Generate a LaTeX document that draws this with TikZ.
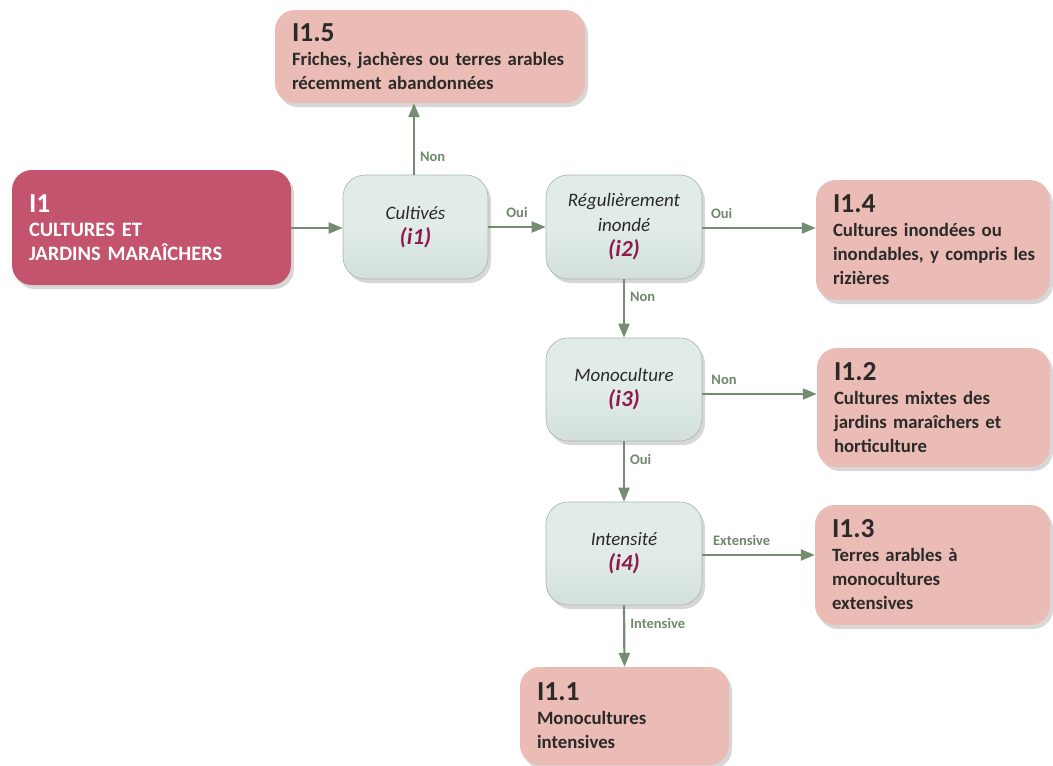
\documentclass[tikz,border=0pt]{standalone}
\usepackage{fontspec}
\setmainfont{Carlito}
\usetikzlibrary{arrows.meta,shadows}
\definecolor{mainred}{HTML}{C4536E}
\definecolor{decfill}{HTML}{E1ECE8}
\definecolor{decbot}{HTML}{D3E0DA}
\definecolor{decdraw}{HTML}{A9B3AE}
\definecolor{outfill}{HTML}{EBBCB5}
\definecolor{arrowc}{HTML}{748C72}
\definecolor{labelc}{HTML}{6E8A6B}
\definecolor{codec}{HTML}{8C1C4D}
\definecolor{textc}{HTML}{2B2A29}
\tikzset{
  shad/.style={drop shadow={shadow xshift=3pt,shadow yshift=-4pt,opacity=0.22,fill=black!70}},
  mainbox/.style={shad,rounded corners=20pt,fill=mainred,text=white,align=left,font=\bfseries\fontsize{20.5}{24}\selectfont,inner sep=0pt},
  decbox/.style={shad,rounded corners=22pt,top color=decfill,bottom color=decbot,middle color=decfill,draw=decdraw,line width=0.6pt,align=center,text=textc,inner sep=0pt,font=\itshape\fontsize{19}{25}\selectfont},
  outbox/.style={shad,rounded corners=20pt,fill=outfill,text=textc,align=left,font=\bfseries\fontsize{18.8}{24}\selectfont,inner sep=0pt},
  conn/.style={draw=arrowc,line width=2.2pt,-{Triangle[length=14pt,width=11pt]}},
  lab/.style={text=labelc,font=\bfseries\fontsize{14.5}{16}\selectfont,inner sep=0pt},
}
\newcommand{\code}[1]{{\color{codec}\bfseries\fontsize{23}{26}\selectfont #1}}
\newcommand{\ttl}[1]{{\fontsize{27.5}{28}\selectfont #1}}
\begin{document}
\begin{tikzpicture}[x=1pt,y=-1pt]
\useasboundingbox[fill=white] (0,0) rectangle (1053,766);
% main box
\node[mainbox,minimum width=279pt,minimum height=115pt,text width=245pt] (m) at (151.5,227.5)
  {\ttl{I1}\\CULTURES ET\\JARDINS MARAÎCHERS};
% decisions
\node[decbox,minimum width=145pt,minimum height=104pt] (c1) at (415.5,227) {Cultivés\\\code{(i1)}};
\node[decbox,minimum width=156pt,minimum height=104pt] (c2) at (624,227) {Régulièrement\\inondé\\\code{(i2)}};
\node[decbox,minimum width=156pt,minimum height=103pt] (c3) at (624,389.5) {Monoculture\\\code{(i3)}};
\node[decbox,minimum width=156pt,minimum height=103pt] (c4) at (624,553.5) {Intensité\\\code{(i4)}};
% outcomes
\node[outbox,minimum width=310pt,minimum height=93pt,text width=276pt] (o15) at (430,56.5)
  {\ttl{I1.5}\\Friches, jachères ou terres arables\\récemment abandonnées};
\node[outbox,minimum width=234pt,minimum height=120pt,text width=200pt] (o14) at (933,240)
  {\ttl{I1.4}\\Cultures inondées ou\\\mbox{inondables, y compris les}\\rizières};
\node[outbox,minimum width=233pt,minimum height=119pt,text width=199pt] (o12) at (933.5,407.5)
  {\ttl{I1.2}\\Cultures mixtes des\\jardins maraîchers et\\horticulture};
\node[outbox,minimum width=235pt,minimum height=120pt,text width=201pt] (o13) at (932.5,565)
  {\ttl{I1.3}\\Terres arables à\\monocultures\\extensives};
\node[outbox,minimum width=209pt,minimum height=98pt,text width=175pt] (o11) at (624.5,716)
  {\ttl{I1.1}\\Monocultures\\intensives};
% connectors
\draw[conn] (m.east |- 0,228) -- (c1.west |- 0,228);
\draw[conn] (c1.east) -- node[lab,above=8pt] {Oui} (c2.west);
\draw[conn] (c1.north -| 414,0) -- node[lab,right=5pt,pos=0.25] {Non} (o15.south -| 414,0);
\draw[conn] (c2.east |- 0,228) -- node[lab,above=8pt,pos=0.17] {Oui} (o14.west |- 0,228);
\draw[conn] (c2.south) -- node[lab,right=5pt,pos=0.3] {Non} (c3.north);
\draw[conn] (c3.east |- 0,394) -- node[lab,above=8pt,pos=0.19] {Non} (o12.west |- 0,394);
\draw[conn] (c3.south) -- node[lab,right=5pt,pos=0.3] {Oui} (c4.north);
\draw[conn] (c4.east |- 0,555) -- node[lab,above=8pt,pos=0.35] {Extensive} (o13.west |- 0,555);
\draw[conn] (c4.south) -- node[lab,right=5pt,pos=0.3] {Intensive} (o11.north);
\end{tikzpicture}
\end{document}
